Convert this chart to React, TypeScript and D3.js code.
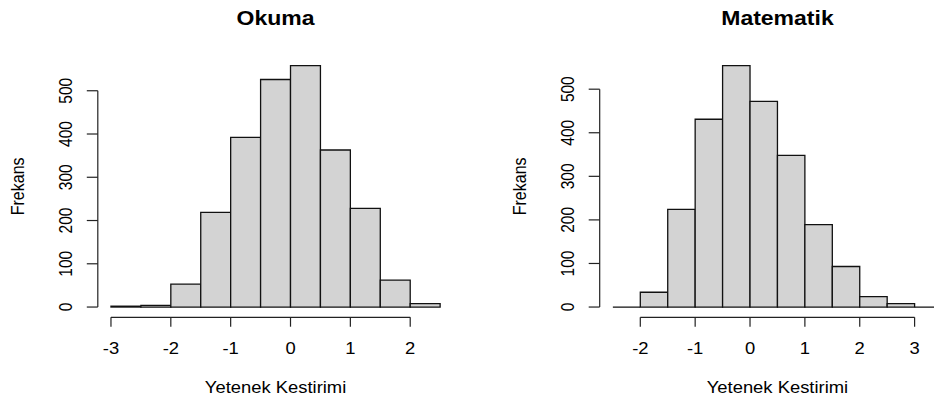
import React from 'react';
import * as d3 from 'd3';

// histogram bins (break points) and counts
const okumaBreaks = [-3, -2.5, -2, -1.5, -1, -0.5, 0, 0.5, 1, 1.5, 2, 2.5];
const okumaCounts = [2, 4, 53, 219, 392, 526, 558, 363, 228, 62, 8];
const okumaXTicks = [-3, -2, -1, 0, 1, 2];

const matBreaks = [-2.5, -2, -1.5, -1, -0.5, 0, 0.5, 1, 1.5, 2, 2.5, 3, 3.5];
const matCounts = [0, 34, 224, 431, 554, 472, 348, 189, 93, 24, 8, 0];
const matXTicks = [-2, -1, 0, 1, 2, 3];

const yTicks = [0, 100, 200, 300, 400, 500];

const FONT = '"Liberation Sans", Arial, sans-serif';
const SX = 1.15; // the picture is stretched a bit horizontally

const Panel = ({ title, breaks, counts, xTicks, left }) => {
  const plotW = 355.5;
  const top = 56, bottom = 316.7;
  const x0 = breaks[0], x1 = breaks[breaks.length - 1];
  const xr = x1 - x0;
  const x = d3.scaleLinear()
    .domain([x0 - 0.04 * xr, x1 + 0.04 * xr])
    .range([left, left + plotW]);
  const ymax = d3.max(counts);
  const y = d3.scaleLinear()
    .domain([-0.04 * ymax, 1.04 * ymax])
    .range([bottom, top]);
  const cx = left + plotW / 2;
  const axisCol = '#222';

  return (
    <g fontFamily={FONT}>
      <text transform={`translate(${cx},25) scale(${SX},1)`} textAnchor="middle"
        fontSize={20} fontWeight="bold" fill="#000">{title}</text>

      {counts.map((c, i) => {
        const a = x(breaks[i]), b = x(breaks[i + 1]);
        const y0 = y(0), y1 = y(c);
        return <path key={i} d={`M${a},${y0}V${y1}H${b}V${y0}Z`}
          fill="#d3d3d3" stroke="#111" strokeWidth={1.3} />;
      })}

      {/* x axis */}
      <line x1={x(xTicks[0])} x2={x(xTicks[xTicks.length - 1])} y1={bottom + 0.6} y2={bottom + 0.6}
        stroke={axisCol} strokeWidth={1.2} />
      {xTicks.map(t => (
        <g key={t}>
          <line x1={x(t)} x2={x(t)} y1={bottom + 0.6} y2={bottom + 10} stroke={axisCol} strokeWidth={1.2} />
          <text transform={`translate(${x(t)},354) scale(${SX},1)`} textAnchor="middle"
            fontSize={16} fill="#000">{t}</text>
        </g>
      ))}
      <text transform={`translate(${cx},393) scale(${SX},1)`} textAnchor="middle"
        fontSize={16} fill="#000">Yetenek Kestirimi</text>

      {/* y axis */}
      <line x1={left} x2={left} y1={y(0)} y2={y(500)} stroke={axisCol} strokeWidth={1.2} />
      {yTicks.map(t => (
        <g key={t}>
          <line x1={left - 11} x2={left} y1={y(t)} y2={y(t)} stroke={axisCol} strokeWidth={1.2} />
          <text transform={`translate(${left - 26},${y(t)}) rotate(-90) scale(1,${SX})`} textAnchor="middle"
            fontSize={15.5} fill="#000">{t}</text>
        </g>
      ))}
      <text transform={`translate(${left - 74},${(top + bottom) / 2}) rotate(-90) scale(1,${SX})`}
        textAnchor="middle" fontSize={16} fill="#000">Frekans</text>
    </g>
  );
};

export default function App() {
  return (
    <svg width={934} height={401} style={{ position: 'absolute', left: 0, top: 0, background: '#fff' }}>
      <rect width={934} height={401} fill="#fff" />
      <Panel title="Okuma" breaks={okumaBreaks} counts={okumaCounts} xTicks={okumaXTicks} left={97.8} />
      <Panel title="Matematik" breaks={matBreaks} counts={matCounts} xTicks={matXTicks} left={599.7} />
    </svg>
  );
}
